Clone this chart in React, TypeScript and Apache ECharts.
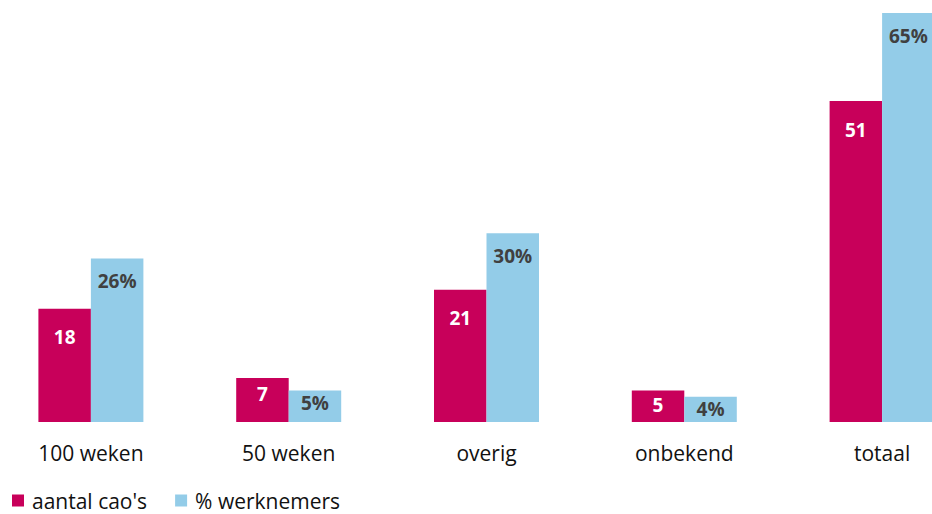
import React, { useEffect, useRef } from "react";
import * as echarts from "echarts";

const categories = ["100 weken", "50 weken", "overig", "onbekend", "totaal"];
const aantalCaos = [18, 7, 21, 5, 51];
const pctWerknemers = [26, 5, 30, 4, 65];
const seriesNames = ["aantal cao's", "% werknemers"];

const RED = "#C8005A";
const BLUE = "#93CCE8";
const FONT = "'Open Sans', 'Noto Sans', sans-serif";

export default function App() {
  const ref = useRef<HTMLDivElement>(null);
  useEffect(() => {
    if (!ref.current) return;
    const chart = echarts.init(ref.current, null, { renderer: "svg" });
    const redDist = (v: number) => (v >= 15 ? 19 : v >= 7 ? 7 : 5);
    const blueDist = (v: number) => (v >= 15 ? 13 : 3);
    chart.setOption({
      animation: false,
      textStyle: { fontFamily: FONT },
      grid: { left: 0, right: 0, top: 13, height: 409, containLabel: false },
      legend: {
        left: 15,
        bottom: 0,
        padding: [3, 5, 3, 5],
        icon: "rect",
        itemWidth: 12,
        itemHeight: 12,
        itemGap: 28,
        data: seriesNames,
        textStyle: { fontFamily: FONT, fontSize: 21, color: "#111", padding: [0, 0, 0, 3] },
      },
      xAxis: {
        type: "category",
        data: categories,
        axisLine: { show: false },
        axisTick: { show: false },
        axisLabel: { fontFamily: FONT, fontSize: 21, color: "#111", margin: 20 },
      },
      yAxis: {
        type: "value",
        min: 0,
        max: 65,
        show: false,
        splitLine: { show: false },
      },
      series: [
        {
          name: seriesNames[0],
          type: "bar",
          barWidth: 52.5,
          barGap: "0%",
          itemStyle: { color: RED },
          data: aantalCaos.map((v) => ({
            value: v,
            label: { distance: redDist(v) },
          })),
          label: {
            show: true,
            position: "insideTop",
            color: "#fff",
            fontWeight: "bold",
            fontSize: 19,
            fontFamily: FONT,
          },
        },
        {
          name: seriesNames[1],
          type: "bar",
          barWidth: 52.5,
          barGap: "0%",
          itemStyle: { color: BLUE },
          data: pctWerknemers.map((v) => ({
            value: v,
            label: { distance: blueDist(v) },
          })),
          label: {
            show: true,
            position: "insideTop",
            color: "#404040",
            fontWeight: "bold",
            fontSize: 19,
            fontFamily: FONT,
            formatter: "{c}%",
          },
        },
      ],
    });
    return () => chart.dispose();
  }, []);
  return (
    <div
      style={{
        position: "absolute",
        left: 0,
        top: 0,
        width: 932,
        height: 514,
        overflow: "hidden",
        background: "#fff",
      }}
    >
      <div ref={ref} style={{ position: "absolute", left: -8, top: 0, width: 989, height: 514 }} />
    </div>
  );
}
